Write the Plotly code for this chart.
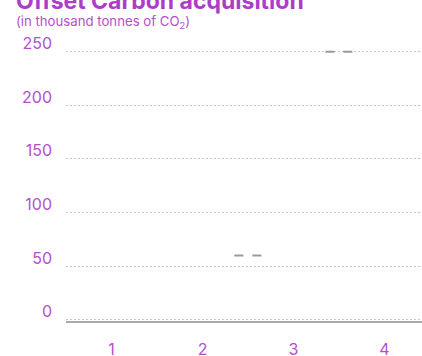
import plotly.graph_objects as go

# Data
x_categories = [2, 3, 4]
values = [60, 190, 0]
measures = ["relative", "relative", "total"]
tick_vals = [1, 2, 3, 4]
tick_text = ["1", "2", "3", "4"]
y_ticks = [0, 50, 100, 150, 200, 250]

PURPLE = "#b44fcc"
TITLE_PURPLE = "#ad3cc9"
FONT = "Inter"

fig = go.Figure()
fig.add_trace(go.Waterfall(
    x=x_categories,
    y=values,
    measure=measures,
    increasing=dict(marker=dict(color="rgba(0,0,0,0)", line=dict(width=0))),
    decreasing=dict(marker=dict(color="rgba(0,0,0,0)", line=dict(width=0))),
    totals=dict(marker=dict(color="rgba(0,0,0,0)", line=dict(width=0))),
    connector=dict(line=dict(color="#999999", width=2, dash="dash")),
    hoverinfo="skip",
    showlegend=False,
))

PLOT_H = 291
PLOT_W = 356

fig.update_layout(
    width=422, height=356,
    margin=dict(l=66, r=0, t=30, b=35, autoexpand=False),
    paper_bgcolor="white", plot_bgcolor="white",
    waterfallgap=0.3,
    font=dict(family=FONT, color=PURPLE, size=16),
    showlegend=False,
    annotations=[
        dict(text="<b>Offset Carbon acquisition</b>", xref="paper", yref="paper",
             x=-52/PLOT_W, y=1 + 29/PLOT_H, xanchor="left", yanchor="middle", showarrow=False,
             font=dict(family=FONT, size=23, color=TITLE_PURPLE)),
        dict(text="(in thousand tonnes of CO<sub>2</sub>)", xref="paper", yref="paper",
             x=-52/PLOT_W, y=1 + 8/PLOT_H, xanchor="left", yanchor="middle", showarrow=False,
             font=dict(family=FONT, size=13.2, color=PURPLE)),
    ],
)

fig.update_xaxes(
    range=[0.5, 0.5 + PLOT_W / 91],
    tickvals=tick_vals, ticktext=tick_text,
    showgrid=False, zeroline=False, automargin=False,
    showline=True, linecolor="#a9a9a9", linewidth=2,
    ticks="", ticklabelstandoff=13,
    tickfont=dict(size=16, color=PURPLE, family=FONT),
)
fig.update_yaxes(
    range=[-1, 270.2],
    tickvals=y_ticks, automargin=False,
    showgrid=True, gridcolor="#b8cbe0", gridwidth=1, griddash="2px,2px",
    zeroline=False, showline=False,
    ticks="", ticklabelposition="outside top", ticklabelstandoff=13,
    ticklabelshift=3,
    tickfont=dict(size=16, color=PURPLE, family=FONT),
)

fig.write_html("out.html")
